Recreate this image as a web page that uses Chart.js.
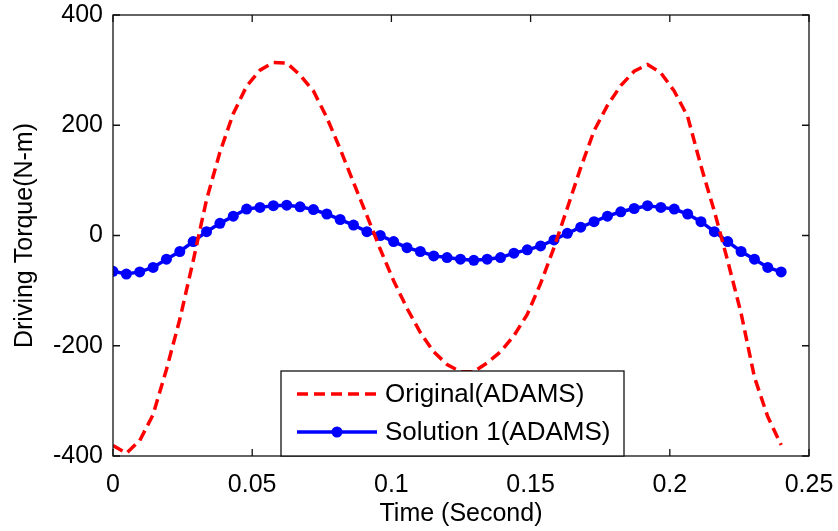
<!DOCTYPE html>
<html>
<head>
<meta charset="utf-8">
<script src="https://cdn.jsdelivr.net/npm/chart.js@4.4.1/dist/chart.umd.min.js"></script>
<style>
html,body{margin:0;padding:0;background:#fff}
</style>
</head>
<body>
<canvas id="torqueChart" width="838" height="531"></canvas>
<script>
// sample times (s)
const times = [0, 0.0048, 0.0096, 0.0144, 0.0192, 0.024, 0.0288, 0.0336, 0.0384, 0.0432,
  0.048, 0.0528, 0.0576, 0.0624, 0.0672, 0.072, 0.0768, 0.0816, 0.0864, 0.0912,
  0.096, 0.1008, 0.1056, 0.1104, 0.1152, 0.12, 0.1248, 0.1296, 0.1344, 0.1392,
  0.144, 0.1488, 0.1536, 0.1584, 0.1632, 0.168, 0.1728, 0.1776, 0.1824, 0.1872,
  0.192, 0.1968, 0.2016, 0.2064, 0.2112, 0.216, 0.2208, 0.2256, 0.2304, 0.2352, 0.24]

const original = [-381, -395, -372, -325, -243, -152, -46, 65, 151, 221,
  271, 300, 314, 313, 291, 262, 214, 157, 96, 36,
  -25, -82, -132, -176, -211, -234, -247, -247, -231, -211,
  -182, -143, -87, -22, 50, 123, 190, 236, 272, 298,
  310, 295, 262, 216, 126, 44, -46, -141, -257, -329, -380]

const solution1 = [-65, -70, -66, -58, -43, -29, -11, 7, 22, 35,
  48, 51, 54, 55, 52, 47, 39, 29, 19, 7,
  0, -11, -22, -29, -37, -40, -43, -45, -43, -40,
  -32, -26, -19, -8, 4, 15, 25, 35, 43, 49,
  54, 51, 48, 39, 25, 7, -11, -29, -43, -58, -66]

const seriesNames = ["Original(ADAMS)", "Solution 1(ADAMS)"]
const xTicks = [0, 0.05, 0.1, 0.15, 0.2, 0.25]
const yTicks = [-400, -200, 0, 200, 400]

const toPoints = ys => ys.map((y, i) => ({x: times[i], y: y}))

Chart.defaults.font.family = "'Liberation Sans', Arial, sans-serif"
Chart.defaults.color = "#000"

const fnt = {size: 25}

// matlab style box, inward ticks and legend
const boxPlugin = {
  id: "matlabBox",
  afterDatasetsDraw(chart) {
    const {ctx, chartArea: a, scales} = chart
    const tl = 7
    ctx.save()
    ctx.strokeStyle = "#111"
    ctx.lineWidth = 1.3
    ctx.setLineDash([])
    ctx.strokeRect(a.left, a.top, a.right - a.left, a.bottom - a.top)
    ctx.beginPath()
    xTicks.forEach(v => {
      const px = scales.x.getPixelForValue(v)
      ctx.moveTo(px, a.bottom); ctx.lineTo(px, a.bottom - tl)
      ctx.moveTo(px, a.top); ctx.lineTo(px, a.top + tl)
    })
    yTicks.forEach(v => {
      const py = scales.y.getPixelForValue(v)
      ctx.moveTo(a.left, py); ctx.lineTo(a.left + tl, py)
      ctx.moveTo(a.right, py); ctx.lineTo(a.right - tl, py)
    })
    ctx.stroke()

    // legend
    const lx = 281, ly = 371, lw = 343, lh = 85
    ctx.fillStyle = "#fff"
    ctx.fillRect(lx, ly, lw, lh)
    ctx.strokeStyle = "#111"
    ctx.lineWidth = 1.3
    ctx.strokeRect(lx, ly, lw, lh)
    const rows = [ly + 23, ly + 61]
    chart.data.datasets.forEach((ds, i) => {
      const y = rows[i]
      ctx.strokeStyle = ds.borderColor
      ctx.lineWidth = ds.borderWidth
      ctx.setLineDash(ds.borderDash || [])
      ctx.beginPath()
      ctx.moveTo(lx + 16, y); ctx.lineTo(lx + 96, y)
      ctx.stroke()
      ctx.setLineDash([])
      if (ds.pointRadius > 0) {
        ctx.fillStyle = ds.pointBackgroundColor
        ctx.beginPath()
        ctx.arc(lx + 56, y, ds.pointRadius, 0, Math.PI * 2)
        ctx.fill()
      }
      ctx.fillStyle = "#000"
      ctx.font = "26px 'Liberation Sans', Arial, sans-serif"
      ctx.textBaseline = "middle"
      ctx.textAlign = "left"
      ctx.fillText(ds.label, lx + 104, y + 1)
    })
    ctx.restore()
  }
}

new Chart(document.getElementById("torqueChart"), {
  type: "line",
  data: {
    datasets: [{
      label: seriesNames[0],
      data: toPoints(original),
      borderColor: "#ff0000",
      borderWidth: 3.5,
      borderDash: [11, 6],
      pointRadius: 0,
      tension: 0
    }, {
      label: seriesNames[1],
      data: toPoints(solution1),
      borderColor: "#0000ff",
      borderWidth: 3.5,
      pointRadius: 5.5,
      pointBackgroundColor: "#0000ff",
      pointBorderWidth: 0,
      tension: 0
    }]
  },
  options: {
    responsive: false,
    animation: false,
    layout: {padding: {top: 15, right: 29, left: 0, bottom: 0}},
    plugins: {legend: {display: false}, tooltip: {enabled: false}},
    scales: {
      x: {
        type: "linear",
        min: 0,
        max: 0.25,
        afterBuildTicks: s => { s.ticks = xTicks.map(v => ({value: v})) },
        afterFit: s => { s.height = 75; s.paddingLeft = 0; s.paddingRight = 0 },
        ticks: {font: fnt, padding: 14, maxRotation: 0, autoSkip: false, callback: v => String(v)},
        grid: {display: false, drawTicks: false},
        border: {display: false},
        title: {display: true, text: "Time (Second)", font: fnt, padding: {top: 0, bottom: 2}}
      },
      y: {
        min: -400,
        max: 400,
        afterBuildTicks: s => { s.ticks = yTicks.map(v => ({value: v})) },
        afterFit: s => { s.width = 113; s.paddingTop = 0; s.paddingBottom = 0 },
        ticks: {font: fnt, padding: 10, callback: v => String(v)},
        grid: {display: false, drawTicks: false},
        border: {display: false},
        title: {display: true, text: "Driving Torque(N-m)", font: fnt, padding: {top: 10, bottom: 0}}
      }
    }
  },
  plugins: [boxPlugin]
})
</script>
</body>
</html>
